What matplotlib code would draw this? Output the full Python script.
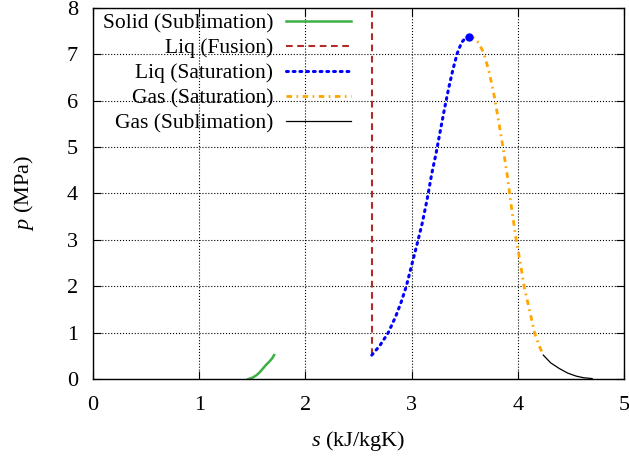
import matplotlib
matplotlib.use("Agg")
import matplotlib.pyplot as plt

plt.rcParams['font.family'] = ['Liberation Serif', 'DejaVu Serif']
plt.rcParams['mathtext.fontset'] = 'custom'
plt.rcParams['mathtext.rm'] = 'Liberation Serif'
plt.rcParams['mathtext.it'] = 'Liberation Serif:italic'

# phase boundaries in the s-p plane (s in kJ/kgK, p in MPa)
s_solid_sub = [1.46, 1.50, 1.54, 1.57, 1.60, 1.63, 1.665, 1.69, 1.705]
p_solid_sub = [0.0, 0.03, 0.086, 0.15, 0.23, 0.31, 0.39, 0.46, 0.518]

s_liq_fus = [2.625, 2.625]
p_liq_fus = [0.518, 8.5]

s_liq_sat = [2.625, 2.70, 2.78, 2.85, 2.90, 2.95, 3.00, 3.045, 3.10, 3.145, 3.19,
             3.23, 3.27, 3.31, 3.35, 3.39, 3.43, 3.47, 3.51, 3.54]
p_liq_sat = [0.518, 0.72, 1.00, 1.35, 1.65, 2.00, 2.45, 2.85, 3.36, 3.86, 4.43,
             4.86, 5.35, 5.83, 6.28, 6.68, 7.02, 7.25, 7.36, 7.38]

s_gas_sat = [3.54, 3.58, 3.63, 3.68, 3.73, 3.78, 3.82, 3.86, 3.90, 3.94, 3.985,
             4.02, 4.06, 4.11, 4.16, 4.205, 4.24]
p_gas_sat = [7.38, 7.36, 7.25, 7.02, 6.62, 6.08, 5.55, 5.00, 4.40, 3.71, 3.00,
             2.56, 1.99, 1.49, 0.98, 0.70, 0.518]

s_gas_sub = [4.24, 4.31, 4.39, 4.47, 4.55, 4.62, 4.70]
p_gas_sub = [0.518, 0.35, 0.23, 0.13, 0.065, 0.03, 0.012]

s_crit = 3.54
p_crit = 7.38

fig = plt.figure(figsize=(6.29, 4.59), dpi=100)
ax = fig.add_axes([0.148, 0.174, 0.844, 0.809])

ax.plot(s_solid_sub, p_solid_sub, color='#3cb043', lw=1.8, label='Solid (Sublimation)')
ax.plot(s_liq_fus, p_liq_fus, color='#b22a2a', lw=1.5, dashes=(3.2, 2.2), label='Liq (Fusion)')
ax.plot(s_liq_sat, p_liq_sat, color='#0000ff', lw=2.2, dashes=(0.6, 1.6),
        dash_capstyle='round', label='Liq (Saturation)')
ax.plot(s_gas_sat, p_gas_sat, color='#ffa500', lw=2.0, dashes=(2.0, 1.6, 0.6, 1.6),
        label='Gas (Saturation)')
ax.plot(s_gas_sub, p_gas_sub, color='black', lw=0.9, label='Gas (Sublimation)')
ax.plot([s_crit], [p_crit], 'o', color='#0000ff', ms=5, zorder=5)

ax.set_xlim(0, 5)
ax.set_ylim(0, 8)
ax.set_xticks(range(0, 6))
ax.set_yticks(range(0, 9))
ax.grid(True, color='black', linestyle=':', lw=0.8)
ax.tick_params(direction='in', length=6, top=True, right=True, labelsize=16)
ax.tick_params(axis='x', pad=12)
ax.tick_params(axis='y', pad=11)
for sp in ax.spines.values():
    sp.set_linewidth(1.0)

ax.set_xlabel(r'$s$ (kJ/kgK)', fontsize=16, labelpad=10)
ax.set_ylabel(r'$p$ (MPa)', fontsize=16, labelpad=22)

ax.legend(loc='upper left', frameon=False, markerfirst=False, fontsize=15.5,
          handlelength=3.0, handletextpad=0.6, labelspacing=0.23, borderaxespad=0.05,
          bbox_to_anchor=(0.0, 1.012))

fig.savefig('out.png', dpi=100)
